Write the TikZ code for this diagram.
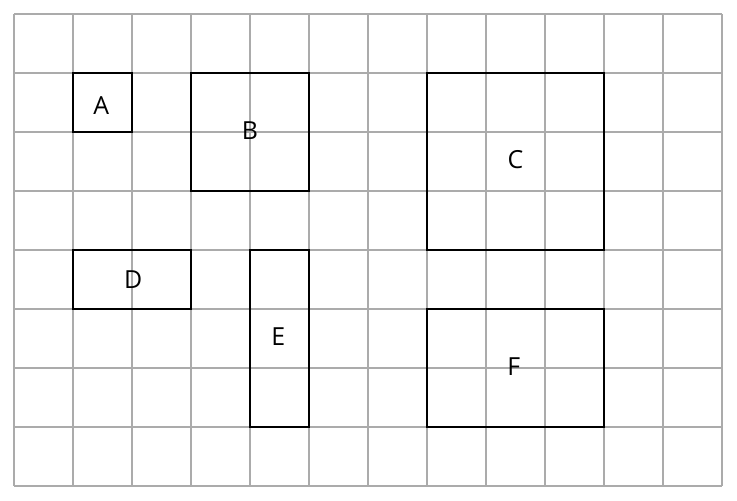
\documentclass[tikz,border=0pt]{standalone}
\usepackage{fontspec}
\setmainfont{Open Sans}
\begin{document}
\begin{tikzpicture}[y=-1cm,
  gridline/.style={draw=black!33, line width=0.5pt},
  box/.style={draw=black, line width=0.9pt},
  lbl/.style={font=\fontsize{12}{14}\selectfont, text=black, inner sep=0pt}]
\useasboundingbox (-0.2373,-0.2373) rectangle (12.2542,8.2542);
\draw[gridline] (0,0) grid (12,8);
\draw[box] (1,1) rectangle (2,2);
\draw[box] (3,1) rectangle (5,3);
\draw[box] (7,1) rectangle (10,4);
\draw[box] (1,4) rectangle (3,5);
\draw[box] (4,4) rectangle (5,7);
\draw[box] (7,5) rectangle (10,7);
\node[lbl] (a) at (1.48,1.56) {A};
\node[lbl] (b) at (4,1.98) {B};
\node[lbl] (c) at (8.5,2.47) {C};
\node[lbl] (d) at (2.02,4.5) {D};
\node[lbl] (e) at (4.48,5.47) {E};
\node[lbl] (f) at (8.47,5.97) {F};
\end{tikzpicture}
\end{document}
